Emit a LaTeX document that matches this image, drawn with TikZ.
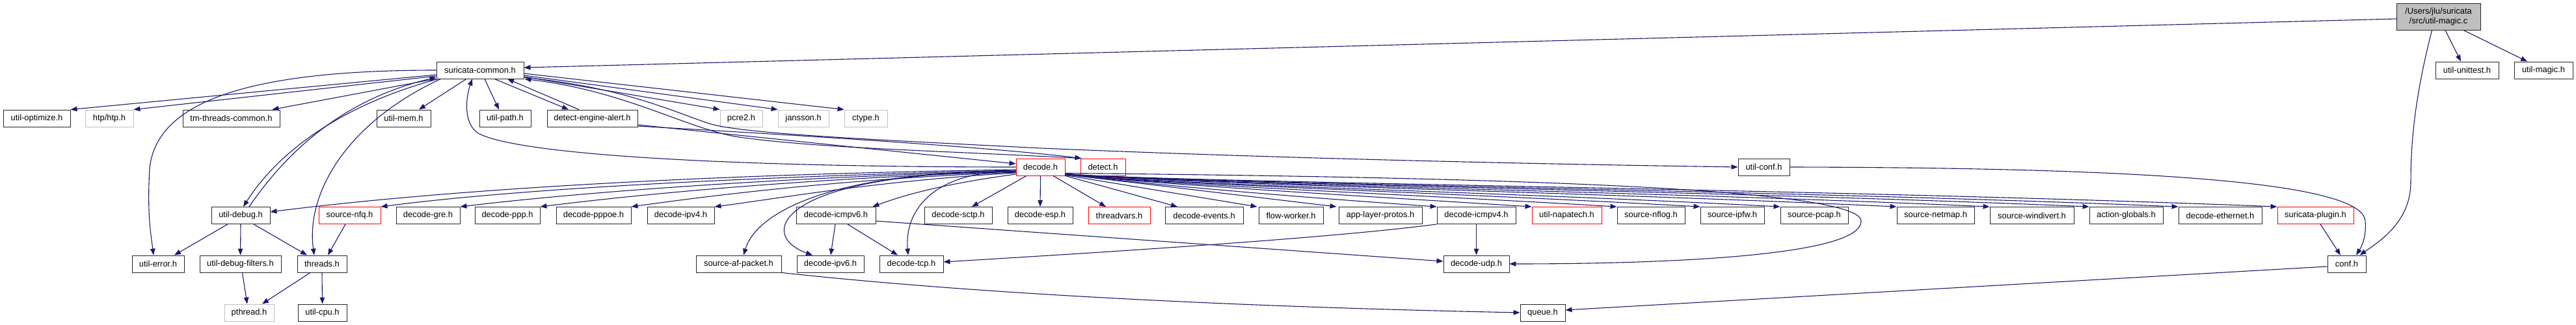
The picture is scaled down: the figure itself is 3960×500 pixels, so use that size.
\documentclass[tikz,border=0pt]{standalone}
\usepackage{fontspec}
\setmainfont{Liberation Sans}
\usetikzlibrary{arrows.meta}
\definecolor{edgec}{HTML}{191970}
\definecolor{grayb}{HTML}{BFBFBF}
\definecolor{redb}{HTML}{FF0000}
\newfontfamily\nfont[SizeFeatures={Size=12.9}]{Liberation Sans}
\tikzset{
  box/.style={draw=black!85, line width=0.9pt, fill=white, inner sep=0pt,
    minimum height=26pt, font=\nfont\fontsize{12.9}{15}\selectfont},
  rbox/.style={box, draw=redb},
  gbox/.style={box, draw=grayb},
  e/.style={draw=edgec, line width=1.1pt, -{Triangle[length=10pt,width=7.5pt]}}
}
\begin{document}
\begin{tikzpicture}[x=1pt,y=-1pt]
\useasboundingbox (0,0) rectangle (3960,500);
% row 0
\node[box, fill=grayb, minimum width=129pt, minimum height=41pt, align=center] (umagic) at (3748.5,25.5) {/Users/jlu/suricata\\/src/util-magic.c};
% row 1
\node[box, minimum width=134pt] (sc) at (738,108) {suricata-common.h};
\node[box, minimum width=97pt] (unittest) at (3792.5,108) {util-unittest.h};
\node[box, minimum width=90pt] (umagich) at (3910,108) {util-magic.h};
% row 2
\node[box, minimum width=103pt] (uopt) at (56.5,182) {util-optimize.h};
\node[gbox, minimum width=74pt] (htp) at (168,182) {htp/htp.h};
\node[box, minimum width=149pt] (tmtc) at (355.5,182) {tm-threads-common.h};
\node[box, minimum width=83pt] (umem) at (620.5,182) {util-mem.h};
\node[box, minimum width=79pt] (upath) at (776.5,182) {util-path.h};
\node[box, minimum width=139pt] (dea) at (910.5,182) {detect-engine-alert.h};
\node[gbox, minimum width=65pt] (pcre) at (1139.5,182) {pcre2.h};
\node[gbox, minimum width=78pt] (jansson) at (1235,182) {jansson.h};
\node[gbox, minimum width=66pt] (ctype) at (1331,182) {ctype.h};
% row 3
\node[rbox, minimum width=75pt] (decode) at (1599.5,257) {decode.h};
\node[rbox, minimum width=69pt] (detect) at (1695.5,257) {detect.h};
\node[box, minimum width=79pt] (uconf) at (2711.5,257) {util-conf.h};
% row 4
\node[box, minimum width=90pt] (udebug) at (370,331.5) {util-debug.h};
\node[rbox, minimum width=95pt] (nfq) at (537.5,331.5) {source-nfq.h};
\node[box, minimum width=98pt] (gre) at (658,331.5) {decode-gre.h};
\node[box, minimum width=100pt] (ppp) at (780,331.5) {decode-ppp.h};
\node[box, minimum width=115pt] (pppoe) at (912.5,331.5) {decode-pppoe.h};
\node[box, minimum width=103pt] (ipv4) at (1046.5,331.5) {decode-ipv4.h};
\node[box, minimum width=122pt] (icmpv6) at (1285,331.5) {decode-icmpv6.h};
\node[box, minimum width=104pt] (sctp) at (1473,331.5) {decode-sctp.h};
\node[box, minimum width=100pt] (esp) at (1599,331.5) {decode-esp.h};
\node[rbox, minimum width=95pt] (tvars) at (1720.5,331.5) {threadvars.h};
\node[box, minimum width=120pt] (events) at (1851,331.5) {decode-events.h};
\node[box, minimum width=99pt] (fworker) at (1984.5,331.5) {flow-worker.h};
\node[box, minimum width=128pt] (alp) at (2122,331.5) {app-layer-protos.h};
\node[box, minimum width=121pt] (icmpv4) at (2269.5,331.5) {decode-icmpv4.h};
\node[rbox, minimum width=107pt] (napatech) at (2408.5,331.5) {util-napatech.h};
\node[box, minimum width=104pt] (nflog) at (2538,331.5) {source-nflog.h};
\node[box, minimum width=98pt] (ipfw) at (2663,331.5) {source-ipfw.h};
\node[box, minimum width=104pt] (pcap) at (2789,331.5) {source-pcap.h};
\node[box, minimum width=119pt] (netmap) at (2975.5,331.5) {source-netmap.h};
\node[box, minimum width=129pt] (windivert) at (3123.5,331.5) {source-windivert.h};
\node[box, minimum width=113pt] (actg) at (3268.5,331.5) {action-globals.h};
\node[box, minimum width=128pt] (eth) at (3413,331.5) {decode-ethernet.h};
\node[rbox, minimum width=117pt] (plugin) at (3559.5,331.5) {suricata-plugin.h};
% row 5
\node[box, minimum width=80pt] (uerr) at (243,406) {util-error.h};
\node[box, minimum width=125pt] (udf) at (369.5,406) {util-debug-filters.h};
\node[box, minimum width=76pt] (threads) at (495,406) {threads.h};
\node[box, minimum width=131pt] (afp) at (1135.5,406) {source-af-packet.h};
\node[box, minimum width=103pt] (ipv6) at (1276.5,406) {decode-ipv6.h};
\node[box, minimum width=98pt] (tcp) at (1401,406) {decode-tcp.h};
\node[box, minimum width=101pt] (udp) at (2269.5,406) {decode-udp.h};
\node[box, minimum width=59pt] (conf) at (3607.5,406) {conf.h};
% row 6
\node[gbox, minimum width=76pt] (pthread) at (383,481) {pthread.h};
\node[box, minimum width=75pt] (ucpu) at (495.5,481) {util-cpu.h};
\node[box, minimum width=69pt] (queue) at (2371.5,481) {queue.h};

% ---------------- edges
% util-magic.c
\draw[e] ([yshift=-3.5pt]umagic.west) -- ([yshift=4pt]sc.east);
\draw[e] ([xshift=10.5pt]umagic.south) -- ([xshift=-9.5pt]unittest.north);
\draw[e] ([xshift=38.5pt]umagic.south) -- ([xshift=-25pt]umagich.north);
\draw[e] ([xshift=-10pt]umagic.south) .. controls (3712,150) and (3706,220) .. (3706,280)
   .. controls (3706,340) and (3660,370) .. ([xshift=20pt]conf.north);
% suricata-common
\draw[e] ([yshift=-7pt]sc.west) -- (uopt.north east);
\draw[e] ([yshift=-9pt]sc.west) -- (htp.north east);
\draw[e] ([xshift=-1pt]sc.south west) -- ([xshift=-12pt]tmtc.north east);
\draw[e] (sc.west) .. controls (400,108) and (240,150) .. (230,260)
   .. controls (226,330) and (232,360) .. ([xshift=-7pt]uerr.north);
\draw[e] ([xshift=-21pt]sc.south) -- ([xshift=23.5pt]umem.north);
\draw[e] ([xshift=7pt]sc.south) -- ([xshift=-9.5pt]upath.north);
\draw[e] ([xshift=22pt]sc.south) -- ([xshift=-36.5pt]dea.north);
\draw[e] ([xshift=-20.5pt]dea.north) -- ([xshift=42pt]sc.south);
\draw[e] ([yshift=-10pt]sc.east) -- (pcre.north west);
\draw[e] ([yshift=-8pt]sc.east) -- (jansson.north west);
\draw[e] ([yshift=-5pt]sc.east) -- (ctype.north west);
\draw[e] ([yshift=-11pt]sc.east) .. controls (960,135) and (1030,170) .. (1090,190)
   .. controls (1140,206) and (1350,215) .. (1600,228)
   .. controls (2000,245) and (2400,253) .. (uconf.west);
\draw[e] (detect.north west) .. controls (1450,232) and (1250,228) .. (1130,210)
   .. controls (1050,195) and (960,140) .. ([xshift=1pt]sc.south east);
\draw[e] ([xshift=3pt]sc.south west) .. controls (530,160) and (430,230) .. ([xshift=4pt]udebug.north);
\draw[e] ([xshift=13pt]udebug.north) .. controls (450,220) and (540,150) .. ([yshift=-11pt]sc.west);
\draw[e] ([xshift=7pt]sc.south west) .. controls (530,190) and (470,300) .. ([xshift=-12pt]threads.north);
% detect-engine-alert
\draw[e] ([yshift=-10pt]dea.east) -- ([yshift=5pt]decode.west);
\draw[e] ([yshift=-12pt]dea.east) .. controls (1350,215) and (1550,230) .. ([xshift=2pt]detect.north west);
% decode.h -> suricata-common
\draw[e] (decode.west) .. controls (1150,257) and (800,240) .. (735,205)
   .. controls (712,190) and (716,150) .. ([xshift=-12pt]sc.south);
% util-debug etc
\draw[e] ([xshift=-20pt]udebug.south) -- ([xshift=25pt]uerr.north);
\draw[e] (udebug.south) -- (udf.north);
\draw[e] ([xshift=20pt]udebug.south) -- ([xshift=-23pt]threads.north);
\draw[e] ([xshift=3pt]udf.south) -- ([xshift=-3pt]pthread.north);
\draw[e] ([xshift=-18pt]threads.south) -- ([xshift=20pt]pthread.north);
\draw[e] (threads.south) -- (ucpu.north);
\draw[e] ([xshift=-6.5pt]nfq.south) -- ([xshift=9pt]threads.north);
% decode.h left fan
\draw[e] ([yshift=-4pt]decode.west) .. controls (1100,268) and (700,290) .. ([yshift=5.5pt]udebug.east);
\draw[e] ([yshift=-5pt]decode.west) .. controls (1150,272) and (800,290) .. (nfq.north east);
\draw[e] ([yshift=-6pt]decode.west) .. controls (1200,273) and (900,295) .. (gre.north east);
\draw[e] ([yshift=-7pt]decode.west) .. controls (1250,274) and (1000,297) .. (ppp.north east);
\draw[e] ([yshift=-8pt]decode.west) .. controls (1300,275) and (1100,300) .. (pppoe.north east);
\draw[e] ([yshift=-9pt]decode.west) .. controls (1350,278) and (1200,305) .. (ipv4.north east);
\draw[e] ([yshift=-11pt]decode.west) .. controls (1450,283) and (1390,300) .. ([xshift=-5pt]icmpv6.north east);
\draw[e] ([yshift=-7pt]decode.west) .. controls (1300,262) and (1165,320) .. ([xshift=7.5pt]afp.north);
\draw[e] ([yshift=-7pt]decode.west) .. controls (1200,265) and (1160,360) .. ([xshift=-27.5pt]ipv6.north);
\draw[e] ([yshift=-7pt]decode.west) .. controls (1440,262) and (1390,320) .. ([xshift=-5pt]tcp.north);
% decode.h right fan
\draw[e] ([xshift=-21.5pt]decode.south) -- ([xshift=21pt]sctp.north);
\draw[e] (decode.south) -- (esp.north);
\draw[e] ([xshift=19.5pt]decode.south) -- ([xshift=-20.5pt]tvars.north);
\draw[e] (decode.south east) -- ([xshift=-41pt]events.north);
\draw[e] ([yshift=1pt]decode.south east) -- ([xshift=-2pt]fworker.north west);
\draw[e] ([yshift=2pt]decode.south east) -- ([xshift=-3pt]alp.north west);
\draw[e] ([yshift=2pt]decode.south east) .. controls (1790,286) and (1980,302) .. (icmpv4.north west);
\draw[e] ([yshift=2pt]decode.south east) .. controls (1800,285) and (2070,300) .. (napatech.north west);
\draw[e] ([yshift=2pt]decode.south east) .. controls (1800,285) and (2150,298) .. (nflog.north west);
\draw[e] ([yshift=2pt]decode.south east) .. controls (1800,284) and (2220,296) .. (ipfw.north west);
\draw[e] ([yshift=2pt]decode.south east) .. controls (1800,284) and (2300,295) .. (pcap.north west);
\draw[e] ([yshift=3pt]decode.south east) .. controls (1800,283) and (2400,294) .. (netmap.north west);
\draw[e] ([yshift=3pt]decode.south east) .. controls (1800,283) and (2500,293) .. (windivert.north west);
\draw[e] ([yshift=3pt]decode.south east) .. controls (1800,282) and (2600,292) .. (actg.north west);
\draw[e] ([yshift=3pt]decode.south east) .. controls (1800,282) and (2700,291) .. (eth.north west);
\draw[e] ([yshift=3pt]decode.south east) .. controls (1800,281) and (2800,290) .. (plugin.north west);
\draw[e] ([yshift=4pt]decode.south east) .. controls (2200,272) and (2860,285) .. (2861,340)
   .. controls (2862,395) and (2550,406) .. (udp.east);
% icmp
\draw[e] ([xshift=-1pt]icmpv6.south) -- ([xshift=0.5pt]ipv6.north);
\draw[e] ([xshift=18pt]icmpv6.south) -- ([xshift=-21pt]tcp.north);
\draw[e] ([yshift=-8.5pt]icmpv6.east) -- ([yshift=4pt]udp.west);
\draw[e] (icmpv4.south west) .. controls (2050,366) and (1700,388) .. ([yshift=3pt]tcp.east);
\draw[e] (icmpv4.south) -- (udp.north);
% queue / conf
\draw[e] (afp.south east) .. controls (1500,452) and (1900,472) .. (queue.west);
\draw[e] ([yshift=-4pt]conf.west) -- ([yshift=4pt]queue.east);
\draw[e] (uconf.east) .. controls (3300,258) and (3632,280) .. (3636,340)
   .. controls (3638,365) and (3630,380) .. ([xshift=14.5pt]conf.north);
\draw[e] ([xshift=7.5pt]plugin.south) -- ([xshift=-9.5pt]conf.north);
\end{tikzpicture}
\end{document}
